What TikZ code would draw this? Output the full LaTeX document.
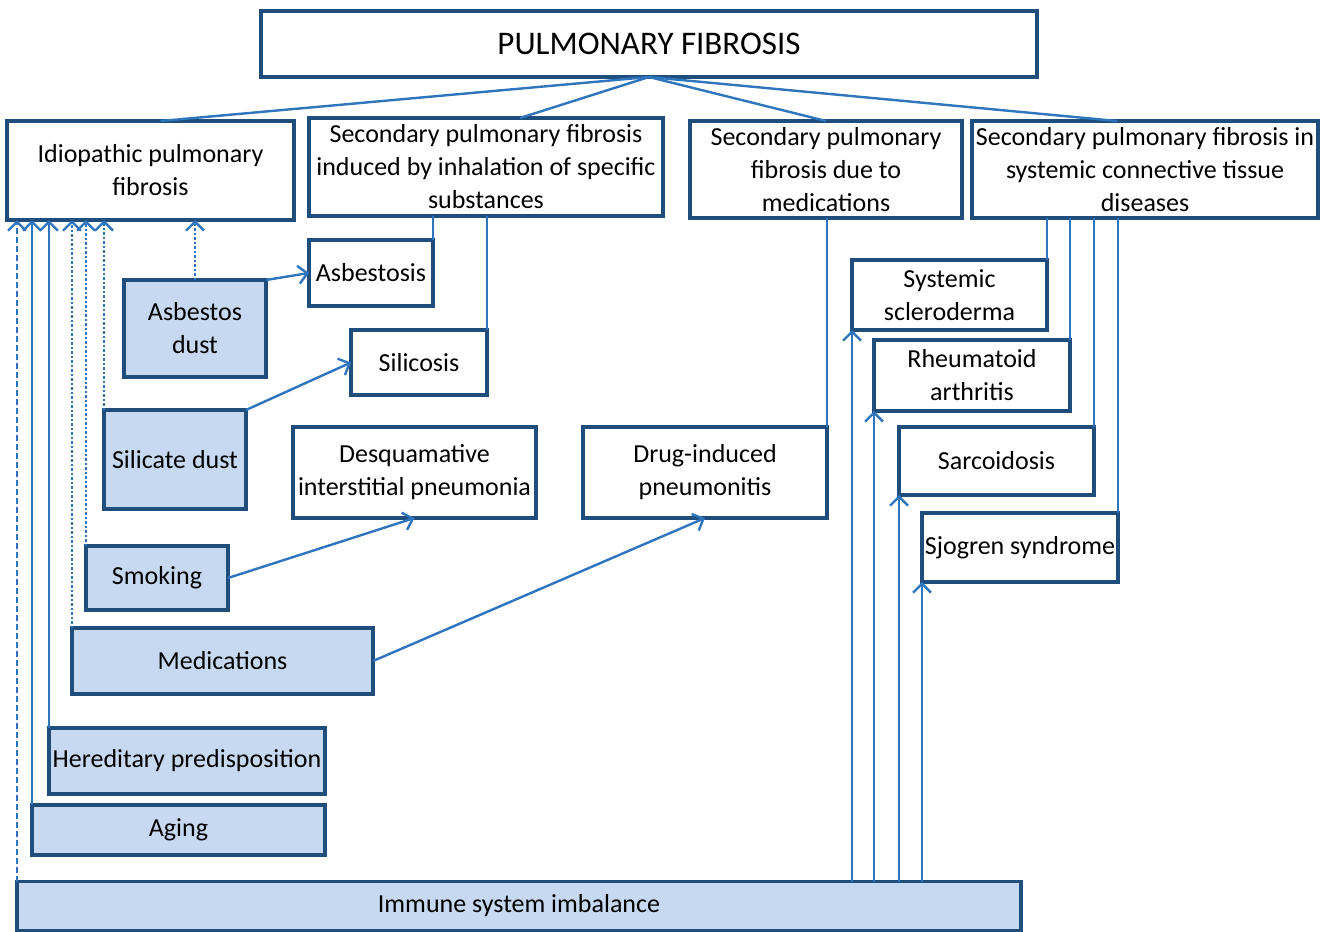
\documentclass[tikz,border=0pt]{standalone}
\usepackage{fontspec}
\setmainfont{Carlito}
\usetikzlibrary{arrows.meta,calc}
\definecolor{bordc}{RGB}{31,78,125}
\definecolor{fillc}{RGB}{198,217,240}
\definecolor{linec}{RGB}{46,117,190}
\begin{document}
\begin{tikzpicture}[x=1pt,y=-1pt,
  box/.style={draw=bordc, line width=3.5pt, fill=white, outer sep=0pt, inner sep=2pt,
    align=center, font=\fontsize{26}{33}\selectfont, text=black},
  fbox/.style={box, fill=fillc},
  conn/.style={draw=linec, line width=2.4pt},
  arr/.style={conn, -{Straight Barb[length=9pt,width=18pt,line width=2.4pt]}},
  dotl/.style={arr, dash pattern=on 2.5pt off 2pt},
  dashl/.style={arr, dash pattern=on 6pt off 3pt}]
\fill[white] (0,0) rectangle (1329,931);
\useasboundingbox (0,0) rectangle (1329,931);

% boxes
\node[box, minimum width=776pt, minimum height=66pt, font=\fontsize{33}{38}\selectfont] (title) at (649,44) {PULMONARY FIBROSIS};
\node[box, minimum width=287pt, minimum height=99pt] (idio) at (150.5,170.5) {Idiopathic pulmonary\\fibrosis};
\node[box, minimum width=354pt, minimum height=98pt] (inhal) at (486,167) {Secondary pulmonary fibrosis\\induced by inhalation of specific\\substances};
\node[box, minimum width=272pt, minimum height=97pt] (med) at (826,169.5) {Secondary pulmonary\\fibrosis due to\\medications};
\node[box, minimum width=346pt, minimum height=97pt] (ctd) at (1145,169.5) {Secondary pulmonary fibrosis in\\systemic connective tissue\\diseases};
\node[box, minimum width=124pt, minimum height=66pt] (asb) at (371,273) {Asbestosis};
\node[fbox, minimum width=142pt, minimum height=97pt] (asd) at (195,328.5) {Asbestos\\dust};
\node[box, minimum width=136pt, minimum height=65pt] (sil) at (419,362.5) {Silicosis};
\node[fbox, minimum width=142pt, minimum height=99pt] (sid) at (175,459.5) {Silicate dust};
\node[box, minimum width=243pt, minimum height=91pt] (desq) at (414.5,472.5) {Desquamative\\interstitial pneumonia};
\node[box, minimum width=244pt, minimum height=91pt] (drug) at (705,472.5) {Drug-induced\\pneumonitis};
\node[fbox, minimum width=142pt, minimum height=64pt] (smok) at (157,578) {Smoking};
\node[fbox, minimum width=301pt, minimum height=66pt] (meds) at (222.5,661) {Medications};
\node[fbox, minimum width=276pt, minimum height=66pt] (here) at (187,761) {Hereditary predisposition};
\node[fbox, minimum width=293pt, minimum height=50pt] (aging) at (178.5,830) {Aging};
\node[fbox, minimum width=1004pt, minimum height=49pt] (imm) at (519,906) {Immune system imbalance};
\node[box, minimum width=195pt, minimum height=70pt] (scl) at (949.5,295) {Systemic\\scleroderma};
\node[box, minimum width=196pt, minimum height=71pt] (rheu) at (972,375.5) {Rheumatoid\\arthritis};
\node[box, minimum width=195pt, minimum height=68pt] (sarc) at (996.5,461) {Sarcoidosis};
\node[box, minimum width=196pt, minimum height=69pt] (sjog) at (1020,547.5) {Sjogren syndrome};

% title connectors
\draw[conn] (title.south) -- ($(idio.north)+(10,0)$);
\draw[conn] (title.south) -- ($(inhal.north)+(34,0)$);
\draw[conn] (title.south) -- (med.north);
\draw[conn] (title.south) -- ($(ctd.north)+(-28,0)$);

% secondary to specific
\draw[conn] (inhal.south -| asb.north east) -- (asb.north east);
\draw[conn] (inhal.south -| sil.north east) -- (sil.north east);
\draw[conn] (med.south -| drug.north east) -- (drug.north east);
\draw[conn] (ctd.south -| scl.north east) -- (scl.north east);
\draw[conn] (ctd.south -| rheu.north east) -- (rheu.north east);
\draw[conn] (ctd.south -| sarc.north east) -- (sarc.north east);
\draw[conn] (ctd.south -| sjog.north east) -- (sjog.north east);

% causes to idiopathic
\draw[dashl] (imm.north west) -- (imm.north west |- idio.south);
\draw[arr] (aging.north west) -- (aging.north west |- idio.south);
\draw[arr] (here.north west) -- (here.north west |- idio.south);
\draw[dotl] (meds.north west) -- (meds.north west |- idio.south);
\draw[dotl] (smok.north west) -- (smok.north west |- idio.south);
\draw[dotl] (sid.north west) -- (sid.north west |- idio.south);
\draw[dotl] (asd.north) -- (asd.north |- idio.south);

% causes to specific
\draw[arr] (asd.north east) -- (asb.west);
\draw[arr] (sid.north east) -- (sil.west);
\draw[arr] (smok.east) -- (desq.south);
\draw[arr] (meds.east) -- (drug.south);

% immune to connective tissue diseases
\draw[arr] (imm.north -| scl.south west) -- (scl.south west);
\draw[arr] (imm.north -| rheu.south west) -- (rheu.south west);
\draw[arr] (imm.north -| sarc.south west) -- (sarc.south west);
\draw[arr] (imm.north -| sjog.south west) -- (sjog.south west);
\end{tikzpicture}
\end{document}
